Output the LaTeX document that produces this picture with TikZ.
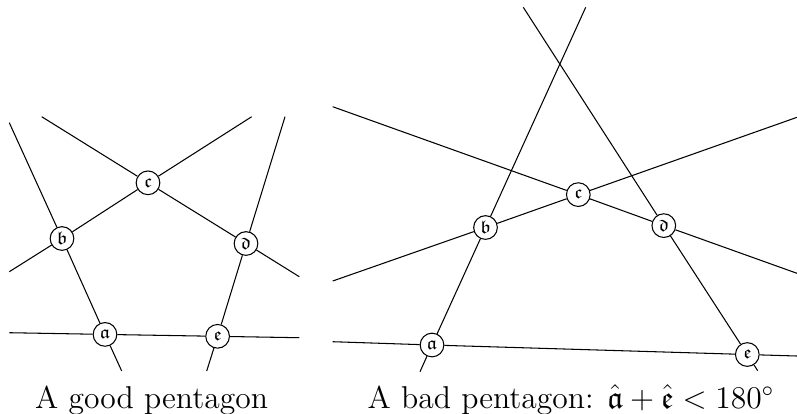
\documentclass[tikz,border=0pt]{standalone}
\usepackage{amssymb}
\begin{document}
\begin{tikzpicture}[x=0.38pt,y=-0.38pt,
  vtx/.style={draw,circle,fill=white,minimum size=9pt,inner sep=0pt,font=\scriptsize},
  edge/.style={draw,line width=0.4pt},
  caption/.style={anchor=base,font=\large,inner sep=0pt}]
\useasboundingbox (0,0) rectangle (797,413);
% left pentagon
\node[vtx] (la) at (105,334.4) {$\mathfrak{a}$};
\node[vtx] (lb) at (62,238.5) {$\mathfrak{b}$};
\node[vtx] (lc) at (148,182.8) {$\mathfrak{c}$};
\node[vtx] (ld) at (246,243.5) {$\mathfrak{d}$};
\node[vtx] (le) at (217.6,336.3) {$\mathfrak{e}$};
\coordinate (lab1) at (9.3,122.7);
\coordinate (lab2) at (121.7,371);
\coordinate (lbc1) at (9.3,271.7);
\coordinate (lbc2) at (251.7,116.7);
\coordinate (lcd1) at (41.7,116.7);
\coordinate (lcd2) at (299.3,276.7);
\coordinate (lde1) at (285,116.7);
\coordinate (lde2) at (206.7,371);
\coordinate (lae1) at (9.3,332.7);
\coordinate (lae2) at (299.3,337.7);
\draw[edge] (lab1) -- (lb) -- (la) -- (lab2);
\draw[edge] (lbc1) -- (lb) -- (lc) -- (lbc2);
\draw[edge] (lcd1) -- (lc) -- (ld) -- (lcd2);
\draw[edge] (lde1) -- (ld) -- (le) -- (lde2);
\draw[edge] (lae1) -- (la) -- (le) -- (lae2);
\node[caption] (lcap) at (151.5,408) {A good pentagon};
% right pentagon
\node[vtx] (ra) at (432,345) {$\mathfrak{a}$};
\node[vtx] (rb) at (485.5,227.5) {$\mathfrak{b}$};
\node[vtx] (rc) at (578.3,194.6) {$\mathfrak{c}$};
\node[vtx] (rd) at (663.8,225.6) {$\mathfrak{d}$};
\node[vtx] (re) at (747.3,354.5) {$\mathfrak{e}$};
\coordinate (rab1) at (420,371.7);
\coordinate (rab2) at (585.7,7.3);
\coordinate (rde1) at (523.3,7.3);
\coordinate (rde2) at (757.7,370.7);
\coordinate (rcd1) at (332.7,106.7);
\coordinate (rcd2) at (797,273.3);
\coordinate (rbc1) at (332.7,281);
\coordinate (rbc2) at (797,117.3);
\coordinate (rae1) at (332.7,341.7);
\coordinate (rae2) at (797,356);
\draw[edge] (rab1) -- (ra) -- (rb) -- (rab2);
\draw[edge] (rde1) -- (rd) -- (re) -- (rde2);
\draw[edge] (rcd1) -- (rc) -- (rd) -- (rcd2);
\draw[edge] (rbc1) -- (rb) -- (rc) -- (rbc2);
\draw[edge] (rae1) -- (ra) -- (re) -- (rae2);
\node[caption] (rcap) at (571,408) {A bad pentagon: $\hat{\mathfrak{a}}+\hat{\mathfrak{e}}<180^\circ$};
\end{tikzpicture}
\end{document}
